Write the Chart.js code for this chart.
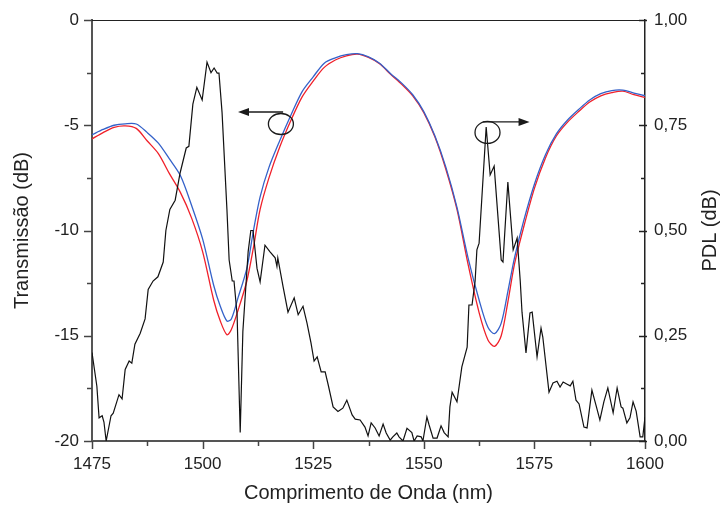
<!DOCTYPE html>
<html>
<head>
<meta charset="utf-8">
<script src="https://cdn.jsdelivr.net/npm/chart.js@4/dist/chart.umd.min.js"></script>
<style>
  html, body { margin: 0; padding: 0; background: #ffffff; }
  #wrap { width: 725px; height: 506px; }
</style>
</head>
<body>
<div id="wrap"><canvas id="c" width="725" height="506"></canvas></div>
<script>
// ---- Data ----
const wavelengths = [1475, 1477.5, 1480, 1482.5, 1485, 1487.5, 1490, 1492.5, 1495, 1497.5, 1500, 1502.5, 1504, 1505.5, 1506.5, 1508, 1510, 1511.5, 1513, 1515, 1517.5, 1520, 1522.5, 1525, 1527.5, 1530, 1532.5, 1535, 1537.5, 1540, 1542.5, 1545, 1547.5, 1550, 1552.5, 1555, 1557.5, 1560, 1562.5, 1564.5, 1566, 1567.5, 1569, 1570.5, 1572.5, 1575, 1577.5, 1580, 1582.5, 1585, 1587.5, 1590, 1592.5, 1595, 1597.5, 1600];
const transBlue = [-5.45, -5.2, -5.0, -4.93, -4.94, -5.35, -5.85, -6.6, -7.4, -8.8, -10.4, -12.6, -13.6, -14.3, -14.2, -13.2, -11.8, -10.0, -8.4, -7.0, -5.7, -4.5, -3.4, -2.7, -2.05, -1.8, -1.65, -1.6, -1.75, -2.05, -2.55, -3.0, -3.55, -4.35, -5.5, -7.0, -8.9, -11.3, -13.3, -14.6, -14.9, -14.4, -12.9, -11.3, -9.6, -7.8, -6.4, -5.4, -4.75, -4.25, -3.8, -3.5, -3.35, -3.33, -3.47, -3.6];
const transRed = [-5.65, -5.35, -5.1, -5.03, -5.15, -5.75, -6.35, -7.3, -8.2, -9.4, -11.0, -13.3, -14.3, -14.95, -14.7, -13.8, -12.4, -10.8, -9.0, -7.5, -6.0, -4.75, -3.65, -2.9, -2.25, -1.9, -1.7, -1.62, -1.78, -2.08, -2.58, -3.05, -3.6, -4.4, -5.55, -7.1, -9.0, -11.6, -13.9, -15.2, -15.5, -15.0, -13.4, -11.6, -9.9, -8.0, -6.55, -5.5, -4.85, -4.35, -3.9, -3.6, -3.45, -3.38, -3.55, -3.68];

const pdlWavelengths = [1475.0, 1476.1, 1476.6, 1477.3, 1477.7, 1478.2, 1479.3, 1479.8, 1481.1, 1481.8, 1482.5, 1483.4, 1484.0, 1484.7, 1485.9, 1487.0, 1487.7, 1488.8, 1489.9, 1491.1, 1491.7, 1492.6, 1493.8, 1494.9, 1496.3, 1496.9, 1497.8, 1498.7, 1499.9, 1501.0, 1501.9, 1502.6, 1503.3, 1503.7, 1504.4, 1505.5, 1506.0, 1506.7, 1507.1, 1507.8, 1508.5, 1509.1, 1510.3, 1510.9, 1511.4, 1512.3, 1513.0, 1514.1, 1515.2, 1516.4, 1516.8, 1517.0, 1518.2, 1519.3, 1520.7, 1521.6, 1522.7, 1523.6, 1524.5, 1525.2, 1525.9, 1526.8, 1527.7, 1528.4, 1529.5, 1530.6, 1531.7, 1532.6, 1533.8, 1534.5, 1535.6, 1536.7, 1537.4, 1538.1, 1539.0, 1539.9, 1540.8, 1541.5, 1542.4, 1543.0, 1543.9, 1544.4, 1545.3, 1546.2, 1547.3, 1547.8, 1548.5, 1549.4, 1549.8, 1550.7, 1551.2, 1552.1, 1553.0, 1553.9, 1554.6, 1555.5, 1555.9, 1556.4, 1557.5, 1558.6, 1559.8, 1560.2, 1560.9, 1561.6, 1562.0, 1562.5, 1564.1, 1565.0, 1565.9, 1567.5, 1567.9, 1569.0, 1570.2, 1571.1, 1571.8, 1572.2, 1573.1, 1574.0, 1574.5, 1575.6, 1576.5, 1576.9, 1578.3, 1579.2, 1580.1, 1580.8, 1581.5, 1582.4, 1583.1, 1583.7, 1584.4, 1585.1, 1586.2, 1586.9, 1588.0, 1588.9, 1589.8, 1590.7, 1591.6, 1592.8, 1593.7, 1594.6, 1595.0, 1595.9, 1596.6, 1597.3, 1598.0, 1598.9, 1599.5, 1600.0];
const pdlValues = [0.21, 0.13, 0.055, 0.06, 0.045, 0.0, 0.06, 0.066, 0.11, 0.10, 0.17, 0.19, 0.185, 0.23, 0.256, 0.29, 0.36, 0.38, 0.39, 0.425, 0.50, 0.55, 0.572, 0.636, 0.696, 0.70, 0.80, 0.84, 0.81, 0.90, 0.875, 0.886, 0.874, 0.874, 0.78, 0.55, 0.43, 0.38, 0.38, 0.30, 0.02, 0.26, 0.45, 0.50, 0.50, 0.41, 0.378, 0.465, 0.45, 0.435, 0.415, 0.435, 0.366, 0.306, 0.34, 0.30, 0.32, 0.28, 0.233, 0.19, 0.20, 0.164, 0.164, 0.133, 0.081, 0.07, 0.078, 0.097, 0.062, 0.052, 0.05, 0.033, 0.012, 0.043, 0.031, 0.012, 0.04, 0.019, 0.002, 0.01, 0.019, 0.01, 0.0, 0.03, 0.02, 0.0, 0.012, 0.01, 0.0, 0.057, 0.038, 0.007, 0.007, 0.036, 0.02, 0.01, 0.081, 0.116, 0.093, 0.176, 0.223, 0.323, 0.323, 0.38, 0.454, 0.47, 0.746, 0.632, 0.653, 0.43, 0.425, 0.615, 0.454, 0.482, 0.38, 0.306, 0.209, 0.304, 0.306, 0.20, 0.268, 0.247, 0.116, 0.138, 0.142, 0.128, 0.14, 0.135, 0.131, 0.142, 0.097, 0.088, 0.033, 0.031, 0.121, 0.086, 0.05, 0.093, 0.126, 0.067, 0.126, 0.081, 0.078, 0.043, 0.055, 0.093, 0.071, 0.01, 0.01, 0.057];

const xTickValues = [1475, 1500, 1525, 1550, 1575, 1600];
const yLeftTicks = [-20, -15, -10, -5, 0];
const yRightTicks = [0, 0.25, 0.5, 0.75, 1.0];
const xMinorTicks = [1487.5, 1512.5, 1537.5, 1562.5, 1587.5];
const yLeftMinorTicks = [-17.5, -12.5, -7.5, -2.5];
const yRightMinorTicks = [0.125, 0.375, 0.625, 0.875];
const rightTitle = 'PDL (dB)';

// ---- Helpers ----
const FONT = "'Liberation Sans', Arial, sans-serif";
const pts = (xs, ys) => xs.map((x, i) => ({ x: x, y: ys[i] }));

const ticksPlugin = {
  id: 'ticksAndFrame',
  afterDraw(chart) {
    const { ctx, chartArea: a, scales } = chart;
    ctx.save();
    // top frame line
    ctx.strokeStyle = '#222';
    ctx.lineWidth = 1.2;
    ctx.beginPath();
    ctx.moveTo(a.left, a.top + 0.5);
    ctx.lineTo(a.right, a.top + 0.5);
    ctx.stroke();

    // bottom ticks (outward)
    ctx.strokeStyle = '#444';
    ctx.lineWidth = 1.5;
    const drawX = (vals, len) => vals.forEach(v => {
      const px = Math.round(scales.x.getPixelForValue(v)) + 0.5;
      ctx.beginPath(); ctx.moveTo(px, a.bottom); ctx.lineTo(px, a.bottom + len); ctx.stroke();
    });
    drawX(xTickValues, 8); drawX(xMinorTicks, 5);

    // left ticks (outward)
    const drawL = (vals, len) => vals.forEach(v => {
      const py = Math.round(scales.y.getPixelForValue(v)) + 0.5;
      ctx.beginPath(); ctx.moveTo(a.left, py); ctx.lineTo(a.left - len, py); ctx.stroke();
    });
    drawL(yLeftTicks, 8); drawL(yLeftMinorTicks, 5);

    // right ticks
    ctx.strokeStyle = '#222';
    const drawR = (vals, lenIn, lenOut) => vals.forEach(v => {
      const py = Math.round(scales.y1.getPixelForValue(v)) + 0.5;
      ctx.beginPath(); ctx.moveTo(a.right - lenIn, py); ctx.lineTo(a.right + lenOut, py); ctx.stroke();
    });
    drawR(yRightTicks, 6, 2); drawR(yRightMinorTicks, 4, 0);

    // right axis title, reading bottom-to-top like the left one
    ctx.fillStyle = '#222';
    ctx.font = "20px " + FONT;
    ctx.textAlign = 'center';
    ctx.textBaseline = 'middle';
    ctx.translate(scales.y1.right - 15, (a.top + a.bottom) / 2);
    ctx.rotate(-Math.PI / 2);
    ctx.fillText(rightTitle, 0, 0);
    ctx.restore();
  }
};

const annotPlugin = {
  id: 'annot',
  afterDatasetsDraw(chart) {
    const { ctx, scales } = chart;
    ctx.save();
    ctx.strokeStyle = '#1a1a1a';
    ctx.fillStyle = '#1a1a1a';
    ctx.lineWidth = 1.3;
    const arrowHead = (x, y, dir) => {
      ctx.beginPath();
      ctx.moveTo(x, y);
      ctx.lineTo(x - dir * 11, y - 4);
      ctx.lineTo(x - dir * 11, y + 4);
      ctx.closePath();
      ctx.fill();
    };
    // left group (transmission axis)
    const c1x = scales.x.getPixelForValue(1517.7);
    const c1y = scales.y.getPixelForValue(-4.94);
    ctx.beginPath(); ctx.ellipse(c1x, c1y, 12.5, 10.5, 0, 0, Math.PI * 2); ctx.stroke();
    const a1y = scales.y.getPixelForValue(-4.37);
    const a1x0 = scales.x.getPixelForValue(1518.2);
    const a1x1 = scales.x.getPixelForValue(1508.0);
    ctx.beginPath(); ctx.moveTo(a1x0, a1y); ctx.lineTo(a1x1 + 8, a1y); ctx.stroke();
    arrowHead(a1x1, a1y, -1);
    // right group (PDL axis)
    const c2x = scales.x.getPixelForValue(1564.4);
    const c2y = scales.y1.getPixelForValue(0.733);
    ctx.beginPath(); ctx.ellipse(c2x, c2y, 12.5, 11, 0, 0, Math.PI * 2); ctx.stroke();
    const a2y = scales.y1.getPixelForValue(0.758);
    const a2x0 = scales.x.getPixelForValue(1563.4);
    const a2x1 = scales.x.getPixelForValue(1573.9);
    ctx.beginPath(); ctx.moveTo(a2x0, a2y); ctx.lineTo(a2x1 - 8, a2y); ctx.stroke();
    arrowHead(a2x1, a2y, 1);
    ctx.restore();
  }
};

const setTicks = arr => scale => { scale.ticks = arr.map(v => ({ value: v })); };

new Chart(document.getElementById('c'), {
  type: 'line',
  data: {
    datasets: [
      { label: 'PDL', data: pts(pdlWavelengths, pdlValues), yAxisID: 'y1', borderColor: '#111111', borderWidth: 1.2, pointRadius: 0, tension: 0 },
      { label: 'T1', data: pts(wavelengths, transBlue), yAxisID: 'y', borderColor: '#3461c9', borderWidth: 1.3, pointRadius: 0, tension: 0.3 },
      { label: 'T2', data: pts(wavelengths, transRed), yAxisID: 'y', borderColor: '#f0202a', borderWidth: 1.3, pointRadius: 0, tension: 0.3 }
    ]
  },
  options: {
    responsive: false,
    animation: false,
    devicePixelRatio: 1,
    layout: { padding: { top: 20, left: 0, right: 0, bottom: 0 } },
    plugins: { legend: { display: false }, tooltip: { enabled: false } },
    scales: {
      x: {
        type: 'linear', position: 'bottom', min: 1475, max: 1600,
        afterBuildTicks: setTicks(xTickValues),
        afterFit: s => { s.height = 65; },
        grid: { display: true, drawOnChartArea: false, drawTicks: true, tickLength: 8, color: 'rgba(0,0,0,0)' },
        border: { display: true, color: '#555', width: 2 },
        ticks: { callback: v => String(v), font: { family: FONT, size: 17 }, color: '#222', padding: 5, maxRotation: 0 },
        title: { display: true, text: 'Comprimento de Onda (nm)', font: { family: FONT, size: 20 }, color: '#222', padding: { top: 2, bottom: 1 } }
      },
      y: {
        type: 'linear', position: 'left', min: -20, max: 0,
        afterBuildTicks: setTicks(yLeftTicks),
        afterFit: s => { s.width = 92; },
        grid: { display: true, drawOnChartArea: false, drawTicks: true, tickLength: 8, color: 'rgba(0,0,0,0)' },
        border: { display: true, color: '#555', width: 2 },
        ticks: { callback: v => String(v), font: { family: FONT, size: 17 }, color: '#222', padding: 5 },
        title: { display: true, text: 'Transmissão (dB)', font: { family: FONT, size: 20 }, color: '#222', padding: { top: 10, bottom: 0 } }
      },
      y1: {
        type: 'linear', position: 'right', min: 0, max: 1,
        afterBuildTicks: setTicks(yRightTicks),
        afterFit: s => { s.width = 80; },
        grid: { display: true, drawOnChartArea: false, drawTicks: true, tickLength: 4, color: 'rgba(0,0,0,0)' },
        border: { display: true, color: '#222', width: 1.5 },
        ticks: { callback: v => v.toFixed(2).replace('.', ','), font: { family: FONT, size: 17 }, color: '#222', padding: 5 },
        title: { display: false }
      }
    }
  },
  plugins: [ticksPlugin, annotPlugin]
});
</script>
</body>
</html>
